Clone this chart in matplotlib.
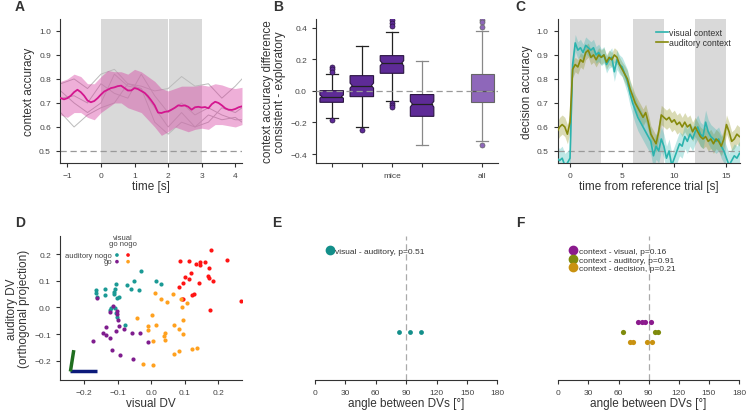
import numpy as np
import matplotlib.pyplot as plt
from matplotlib.patches import Polygon
from matplotlib.lines import Line2D

plt.rcParams['font.family'] = ['Liberation Sans', 'DejaVu Sans']
plt.rcParams['axes.edgecolor'] = '#333333'
plt.rcParams['axes.linewidth'] = 0.8
plt.rcParams['text.color'] = '#333333'
plt.rcParams['axes.labelcolor'] = '#333333'

# ---------------- data ----------------
# A: context accuracy over time (mean, band, single mice)
acc_mean = [0.72, 0.715, 0.72, 0.73, 0.745, 0.755, 0.745, 0.73, 0.71, 0.703, 0.708,
            0.72, 0.735, 0.748, 0.755, 0.762, 0.765, 0.77, 0.772, 0.762, 0.752, 0.752,
            0.762, 0.758, 0.75, 0.742, 0.728, 0.71, 0.69, 0.66, 0.658, 0.663, 0.665,
            0.672, 0.68, 0.69, 0.688, 0.69, 0.684, 0.672, 0.682, 0.684, 0.681, 0.683,
            0.678, 0.695, 0.705, 0.70, 0.69, 0.678, 0.672, 0.671, 0.675, 0.682, 0.686]
acc_upper = [0.79, 0.80, 0.82, 0.81, 0.78, 0.78, 0.81, 0.835, 0.83, 0.83, 0.82, 0.84,
             0.83, 0.81, 0.79, 0.76, 0.75, 0.76, 0.77, 0.77, 0.77, 0.775, 0.77, 0.78,
             0.775, 0.765, 0.76, 0.765]
acc_lower = [0.65, 0.64, 0.66, 0.66, 0.64, 0.63, 0.66, 0.68, 0.70, 0.70, 0.68, 0.67,
             0.66, 0.63, 0.60, 0.565, 0.58, 0.60, 0.59, 0.58, 0.59, 0.595, 0.59, 0.61,
             0.61, 0.605, 0.60, 0.61]
mice_t = [-1.2, -0.8, -0.4, 0.0, 0.4, 0.8, 1.2, 1.6, 2.0, 2.4, 2.8, 3.2, 3.6, 4.0, 4.2]
mouse1 = [0.78, 0.80, 0.76, 0.82, 0.84, 0.78, 0.77, 0.75, 0.76, 0.81, 0.77, 0.78, 0.72, 0.77, 0.80]
mouse2 = [0.66, 0.60, 0.65, 0.68, 0.70, 0.78, 0.76, 0.62, 0.57, 0.62, 0.60, 0.65, 0.63, 0.64, 0.62]
mouse3 = [0.72, 0.73, 0.70, 0.78, 0.74, 0.72, 0.82, 0.73, 0.66, 0.70, 0.65, 0.68, 0.65, 0.63, 0.63]
mouse4 = [0.75, 0.70, 0.66, 0.70, 0.82, 0.77, 0.76, 0.68, 0.60, 0.66, 0.60, 0.62, 0.68, 0.66, 0.68]

# B: boxplot stats (4 mice + all)
box_pos = [1, 2, 3, 4, 6]
box_q1 = [-0.072, -0.036, 0.112, -0.161, -0.070]
box_med = [-0.036, 0.034, 0.176, -0.083, 0.002]
box_q3 = [0.002, 0.097, 0.224, -0.023, 0.108]
box_lo = [-0.174, -0.231, -0.066, -0.343, -0.320]
box_hi = [0.106, 0.288, 0.377, 0.193, 0.379]
box_cilo = [-0.046, 0.018, 0.160, -0.102, 0.002]
box_cihi = [-0.026, 0.050, 0.192, -0.066, 0.002]
box_fliers = [[0.150, 0.140, 0.123, -0.184], [-0.245],
              [0.447, 0.430, 0.410, -0.078, -0.089, -0.100], [],
              [0.450, 0.436, 0.404, -0.343]]
box_labels = ['', '', 'mice', '', 'all']

# C: decision accuracy per context
t_dec = np.linspace(-1.25, 16.25, 71)
vis_acc = [0.47, 0.46, 0.47, 0.44, 0.45, 0.47, 0.86, 0.95, 0.92, 0.93, 0.91, 0.94,
           0.93, 0.92, 0.93, 0.90, 0.91, 0.89, 0.90, 0.86, 0.88, 0.89, 0.83, 0.88,
           0.86, 0.85, 0.82, 0.79, 0.74, 0.70, 0.67, 0.64, 0.62, 0.60, 0.58, 0.56,
           0.54, 0.48, 0.52, 0.50, 0.55, 0.52, 0.47, 0.50, 0.44, 0.47, 0.50, 0.53,
           0.52, 0.56, 0.54, 0.57, 0.55, 0.58, 0.60, 0.57, 0.56, 0.62, 0.58, 0.56,
           0.55, 0.54, 0.55, 0.52, 0.50, 0.47, 0.44, 0.46, 0.48, 0.47, 0.49]
vis_sem = [0.05, 0.05, 0.05, 0.05, 0.05, 0.04, 0.04, 0.035, 0.035, 0.035, 0.035, 0.035,
           0.035, 0.035, 0.035, 0.035, 0.035, 0.035, 0.035, 0.035, 0.035, 0.04, 0.04, 0.04,
           0.04, 0.04, 0.045, 0.05, 0.05, 0.05, 0.055, 0.055, 0.055, 0.055, 0.055, 0.055,
           0.055, 0.055, 0.055, 0.05, 0.05, 0.05, 0.05, 0.05, 0.05, 0.05, 0.05, 0.05,
           0.05, 0.05, 0.05, 0.05, 0.05, 0.05, 0.05, 0.05, 0.05, 0.05, 0.05, 0.05,
           0.05, 0.05, 0.05, 0.05, 0.05, 0.05, 0.05, 0.05, 0.05, 0.05, 0.05]
aud_acc = [0.58, 0.60, 0.61, 0.60, 0.57, 0.62, 0.84, 0.86, 0.85, 0.88, 0.87, 0.91,
           0.92, 0.89, 0.90, 0.88, 0.90, 0.89, 0.90, 0.87, 0.89, 0.88, 0.90, 0.89,
           0.86, 0.84, 0.82, 0.80, 0.76, 0.73, 0.70, 0.68, 0.66, 0.64, 0.66, 0.62,
           0.57, 0.55, 0.53, 0.58, 0.65, 0.64, 0.63, 0.64, 0.62, 0.63, 0.61, 0.62,
           0.60, 0.62, 0.60, 0.61, 0.58, 0.60, 0.58, 0.56, 0.55, 0.56, 0.54, 0.55,
           0.53, 0.55, 0.54, 0.52, 0.55, 0.61, 0.58, 0.54, 0.55, 0.57, 0.56]
aud_sem = [0.04, 0.04, 0.04, 0.04, 0.04, 0.04, 0.035, 0.03, 0.03, 0.03, 0.03, 0.03,
           0.03, 0.03, 0.03, 0.03, 0.03, 0.03, 0.03, 0.03, 0.03, 0.03, 0.03, 0.03,
           0.03, 0.03, 0.035, 0.035, 0.035, 0.035, 0.035, 0.035, 0.035, 0.035, 0.035, 0.035,
           0.035, 0.035, 0.035, 0.035, 0.04, 0.04, 0.04, 0.04, 0.04, 0.04, 0.04, 0.04,
           0.04, 0.04, 0.04, 0.04, 0.04, 0.04, 0.04, 0.04, 0.04, 0.04, 0.04, 0.04,
           0.04, 0.04, 0.04, 0.04, 0.04, 0.04, 0.04, 0.04, 0.04, 0.04, 0.04]

# D: projections on decision vectors
anogo_vgo_x = [-0.031, -0.163, -0.163, -0.160, -0.137, -0.138, -0.106, -0.109, -0.104,
               -0.071, -0.051, -0.061, -0.035, 0.014, 0.028, -0.096, -0.101, -0.111,
               -0.118, -0.121, -0.108, -0.105, -0.101, -0.078]
anogo_vgo_y = [0.135, 0.065, 0.056, 0.040, 0.045, 0.071, 0.069, 0.059, 0.089,
               0.084, 0.101, 0.069, 0.064, 0.101, 0.089, 0.041, 0.034, 0.049,
               -0.001, -0.009, -0.001, -0.019, -0.034, -0.064]
anogo_vnogo_x = [0.177, 0.086, 0.111, 0.144, 0.159, 0.225, 0.132, 0.144, 0.173, 0.118,
                 0.101, 0.113, 0.096, 0.143, 0.082, 0.169, 0.173, 0.185, 0.122, 0.128,
                 0.266, 0.175, 0.094, 0.091]
anogo_vnogo_y = [0.216, 0.173, 0.173, 0.171, 0.171, 0.178, 0.163, 0.160, 0.146, 0.129,
                 0.115, 0.106, 0.090, 0.090, 0.075, 0.116, 0.111, 0.098, 0.046, 0.051,
                 0.024, -0.009, 0.033, 0.030]
ago_vgo_x = [-0.160, -0.113, -0.123, -0.103, -0.101, -0.098, -0.135, -0.144, -0.135,
             -0.123, -0.172, -0.096, -0.080, -0.105, -0.115, -0.094, -0.057, -0.033,
             -0.053, -0.009]
ago_vgo_y = [0.035, 0.006, -0.016, -0.013, -0.025, -0.046, -0.073, -0.095, -0.104,
             -0.114, -0.125, -0.071, -0.079, -0.090, -0.158, -0.180, -0.096, -0.094,
             -0.195, -0.129]
ago_vnogo_x = [0.010, 0.028, 0.046, 0.064, 0.090, 0.091, 0.108, -0.041, 0.002, -0.009,
               0.013, -0.009, 0.040, 0.038, 0.040, 0.005, 0.067, 0.083, 0.094, 0.096,
               0.135, 0.120, 0.067, 0.084, -0.023, 0.005]
ago_vnogo_y = [0.053, 0.031, 0.019, 0.051, 0.031, 0.000, 0.016, -0.041, -0.029, -0.069,
               -0.066, -0.085, -0.095, -0.106, -0.123, -0.125, -0.066, -0.079, -0.046,
               -0.101, -0.153, -0.154, -0.173, -0.165, -0.213, -0.214]
vis_vec = ([-0.24, -0.16], [-0.24, -0.24])
aud_vec = ([-0.24, -0.23], [-0.24, -0.16])

# E, F: angles between decision vectors
ang_vis_aud = [82.5, 93.5, 105.0]
ang_ctx_vis = [79, 83, 86, 92]
ang_ctx_aud = [64, 96, 99]
ang_ctx_dec = [71, 74, 88, 93]

# ---------------- figure ----------------
fig = plt.figure(figsize=(7.46, 4.14), dpi=100)

grey_shade = '#d9d9d9'
tick_kw = dict(direction='out', length=3, width=0.8, colors='#333333',
               labelsize=6, labelcolor='#444444')
lab_fs = 8.5


def style(ax):
    ax.spines['top'].set_visible(False)
    ax.spines['right'].set_visible(False)
    ax.tick_params(**tick_kw)


# A
axA = fig.add_axes([0.0804, 0.6039, 0.244, 0.348])
axA.axvspan(0, 1.985, color=grey_shade, lw=0, zorder=0)
axA.axvspan(2.015, 3, color=grey_shade, lw=0, zorder=0)
for m in [mouse1, mouse2, mouse3, mouse4]:
    axA.plot(mice_t, m, color='#bbbbbb', lw=0.7, zorder=1)
t_band = np.linspace(-1.2, 4.2, len(acc_upper))
axA.fill_between(t_band, acc_lower, acc_upper, color='#d6389e', alpha=0.4, lw=0, zorder=2)
axA.plot(np.linspace(-1.2, 4.2, len(acc_mean)), acc_mean, color='#d4168f', lw=1.3, zorder=3)
axA.axhline(0.5, color='#999999', ls=(0, (5, 3)), lw=0.9)
axA.set_xlim(-1.22, 4.2)
axA.set_ylim(0.45, 1.05)
axA.set_xticks([-1, 0, 1, 2, 3, 4])
axA.set_yticks([0.5, 0.6, 0.7, 0.8, 0.9, 1.0])
axA.set_xlabel('time [s]', fontsize=lab_fs, labelpad=1)
axA.set_ylabel('context accuracy', fontsize=lab_fs, labelpad=3)
style(axA)

# B
axB = fig.add_axes([0.4236, 0.6039, 0.244, 0.348])
mice_col = '#5e2b97'
all_col = '#8e67ba'
for i, p in enumerate(box_pos):
    is_all = box_labels[i] == 'all'
    face = all_col if is_all else mice_col
    edge = '#666666' if is_all else '#2a1440'
    wcol = '#888888' if (is_all or i == 3) else '#222222'
    h = 0.39
    ind = h * 0.82
    q1, med, q3 = box_q1[i], box_med[i], box_q3[i]
    lo, hi = box_cilo[i], box_cihi[i]
    verts = [(p - h, q1), (p + h, q1), (p + h, lo), (p + ind, med), (p + h, hi),
             (p + h, q3), (p - h, q3), (p - h, hi), (p - ind, med), (p - h, lo)]
    axB.add_patch(Polygon(verts, closed=True, fc=face, ec=edge, lw=0.8, zorder=2))
    axB.plot([p - ind, p + ind], [med, med], color='#222222' if not is_all else '#555555',
             lw=0.9, zorder=3)
    axB.plot([p, p], [q3, box_hi[i]], color=wcol, lw=0.9, zorder=1)
    axB.plot([p, p], [q1, box_lo[i]], color=wcol, lw=0.9, zorder=1)
    axB.plot([p - 0.2, p + 0.2], [box_hi[i]] * 2, color=wcol, lw=0.9, zorder=1)
    axB.plot([p - 0.2, p + 0.2], [box_lo[i]] * 2, color=wcol, lw=0.9, zorder=1)
    if box_fliers[i]:
        axB.plot([p] * len(box_fliers[i]), box_fliers[i], 'o', ms=3.6, mfc=face,
                 mec=edge, mew=0.5, zorder=4)
axB.axhline(0, color='#999999', ls=(0, (5, 3)), lw=0.9, zorder=5)
axB.set_xlim(0.48, 6.52)
axB.set_ylim(-0.457, 0.457)
axB.set_xticks(box_pos)
axB.set_xticklabels(box_labels)
axB.set_yticks([-0.4, -0.2, 0.0, 0.2, 0.4])
axB.set_ylabel('context accuracy difference\nconsistent - exploratory', fontsize=lab_fs,
               labelpad=3, linespacing=1.0)
style(axB)

# C
axC = fig.add_axes([0.7476, 0.6039, 0.2444, 0.348])
for s0 in [0, 6, 12]:
    axC.axvspan(s0, s0 + 3, color=grey_shade, lw=0, zorder=0)
teal = '#2bb3ad'
olive = '#868a0c'
vis_acc_a = np.array(vis_acc)
aud_acc_a = np.array(aud_acc)
axC.fill_between(t_dec, aud_acc_a - np.array(aud_sem), aud_acc_a + np.array(aud_sem),
                 color=olive, alpha=0.3, lw=0, zorder=1)
axC.fill_between(t_dec, vis_acc_a - np.array(vis_sem), vis_acc_a + np.array(vis_sem),
                 color=teal, alpha=0.3, lw=0, zorder=1)
axC.plot(t_dec, vis_acc, color=teal, lw=1.2, zorder=3, label='visual context')
axC.plot(t_dec, aud_acc, color=olive, lw=1.2, zorder=3, label='auditory context')
axC.axhline(0.5, color='#999999', ls=(0, (5, 3)), lw=0.9, zorder=2)
axC.set_xlim(-1.18, 16.3)
axC.set_ylim(0.45, 1.05)
axC.set_xticks([0, 5, 10, 15])
axC.set_yticks([0.5, 0.6, 0.7, 0.8, 0.9, 1.0])
axC.set_xlabel('time from reference trial [s]', fontsize=lab_fs, labelpad=1)
axC.set_ylabel('decision accuracy', fontsize=lab_fs, labelpad=3)
axC.legend(loc='upper right', bbox_to_anchor=(0.98, 0.98), frameon=False, fontsize=6.3,
           handlelength=1.3, handletextpad=0.1, labelspacing=0.1, borderpad=0.2)
style(axC)

# D
axD = fig.add_axes([0.0804, 0.0797, 0.244, 0.3486])
c_teal = '#1b9a95'
c_red = '#ff1414'
c_purple = '#7f1d8e'
c_orange = '#ffa11f'
axD.scatter(anogo_vgo_x, anogo_vgo_y, s=9, color=c_teal, lw=0, zorder=3)
axD.scatter(anogo_vnogo_x, anogo_vnogo_y, s=9, color=c_red, lw=0, zorder=3)
axD.scatter(ago_vgo_x, ago_vgo_y, s=9, color=c_purple, lw=0, zorder=3)
axD.scatter(ago_vnogo_x, ago_vnogo_y, s=9, color=c_orange, lw=0, zorder=3)
axD.plot(*vis_vec, color='#0c1a7a', lw=2.5, solid_capstyle='butt', zorder=4)
axD.plot(*aud_vec, color='#1f6e1f', lw=2.5, solid_capstyle='butt', zorder=4)
axD.set_xlim(-0.271, 0.27)
axD.set_ylim(-0.272, 0.269)
axD.set_xticks([-0.2, -0.1, 0.0, 0.1, 0.2])
axD.set_yticks([-0.2, -0.1, 0.0, 0.1, 0.2])
axD.set_xlabel('visual DV', fontsize=lab_fs, labelpad=1)
axD.set_ylabel('auditory DV\n(orthogonal projection)', fontsize=lab_fs, labelpad=3,
               linespacing=1.0)
# small grid legend
leg_fs = 5.5
axD.text(0.345, 0.985, 'visual', transform=axD.transAxes, fontsize=leg_fs,
         ha='center', va='center', color='#444444')
axD.text(0.345, 0.945, 'go nogo', transform=axD.transAxes, fontsize=leg_fs,
         ha='center', va='center', color='#444444')
axD.text(0.285, 0.866, 'auditory nogo', transform=axD.transAxes, fontsize=leg_fs,
         ha='right', va='center', color='#444444')
axD.text(0.285, 0.82, 'go', transform=axD.transAxes, fontsize=leg_fs,
         ha='right', va='center', color='#444444')
axD.scatter([0.313, 0.374], [0.866, 0.866], s=7, color=[c_teal, c_red],
            transform=axD.transAxes, lw=0)
axD.scatter([0.313, 0.374], [0.82, 0.82], s=7, color=[c_purple, c_orange],
            transform=axD.transAxes, lw=0)
style(axD)


def angle_axis(ax):
    ax.axvline(90, color='#aaaaaa', ls=(0, (5, 3)), lw=0.9, zorder=1)
    ax.set_xlim(0, 180)
    ax.set_ylim(-4, 11)
    ax.set_xticks([0, 30, 60, 90, 120, 150, 180])
    ax.set_yticks([])
    for sp in ['top', 'right', 'left']:
        ax.spines[sp].set_visible(False)
    ax.tick_params(**tick_kw)
    ax.set_xlabel('angle between DVs [°]', fontsize=lab_fs, labelpad=1)


# E
axE = fig.add_axes([0.4223, 0.0797, 0.2444, 0.3486])
c_e = '#138f8a'
axE.scatter(ang_vis_aud, [1] * len(ang_vis_aud), s=12, color=c_e, lw=0, zorder=3)
angle_axis(axE)
axE.legend(handles=[Line2D([], [], ls='', marker='o', ms=6, color=c_e,
                           label='visual - auditory, p=0.51')],
           loc='upper left', bbox_to_anchor=(0.02, 0.96), frameon=False, fontsize=6,
           handletextpad=0.1, borderpad=0.2, handlelength=1.2)

# F
axF = fig.add_axes([0.7484, 0.0797, 0.2422, 0.3486])
c_f1 = '#8b1a8d'
c_f2 = '#7f8b0d'
c_f3 = '#c99210'
axF.scatter(ang_ctx_vis, [2] * len(ang_ctx_vis), s=14, color=c_f1, lw=0, zorder=3)
axF.scatter(ang_ctx_aud, [1] * len(ang_ctx_aud), s=14, color=c_f2, lw=0, zorder=3)
axF.scatter(ang_ctx_dec, [0] * len(ang_ctx_dec), s=14, color=c_f3, lw=0, zorder=3)
angle_axis(axF)
axF.legend(handles=[Line2D([], [], ls='', marker='o', ms=6, color=c_f1,
                           label='context - visual, p=0.16'),
                    Line2D([], [], ls='', marker='o', ms=6, color=c_f2,
                           label='context - auditory, p=0.91'),
                    Line2D([], [], ls='', marker='o', ms=6, color=c_f3,
                           label='context - decision, p=0.21')],
           loc='upper left', bbox_to_anchor=(0.02, 0.96), frameon=False, fontsize=6,
           handletextpad=0.1, borderpad=0.2, handlelength=1.2, labelspacing=0.08)

# panel letters
for letter, x, y in [('A', 20, 7), ('B', 278, 7), ('C', 520, 7),
                     ('D', 20, 223), ('E', 277, 223), ('F', 520, 223)]:
    fig.text(x / 746, 1 - y / 414, letter, fontsize=10, fontweight='bold',
             ha='center', va='center', color='#333333')

fig.savefig('out.png', dpi=100)
